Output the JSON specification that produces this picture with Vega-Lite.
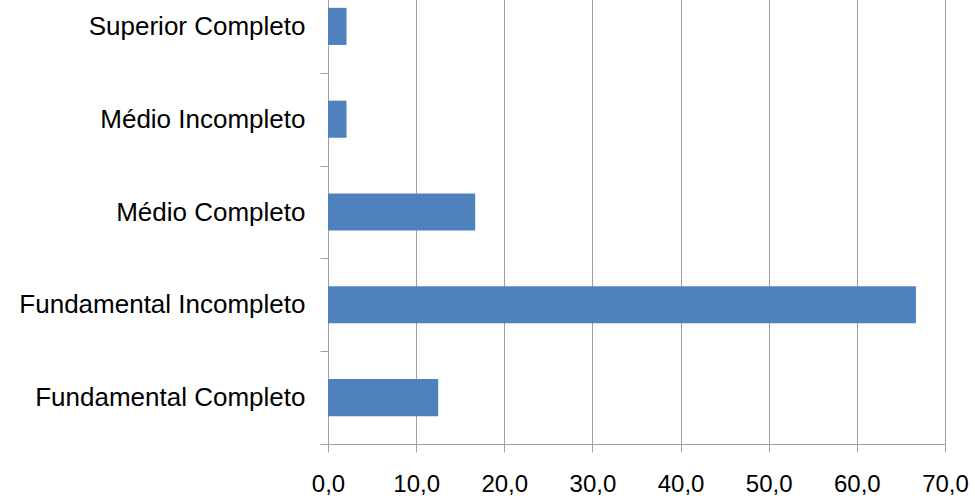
{
  "$schema": "https://vega.github.io/schema/vega-lite/v6.json",
  "width": 617,
  "height": 464,
  "autosize": {"type": "none"},
  "padding": {"left": 328, "top": -20, "right": 30, "bottom": 52},
  "background": "white",
  "data": {
    "values": [
      {"escolaridade": "Superior  Completo", "pct": 2.1},
      {"escolaridade": "Médio Incompleto", "pct": 2.1},
      {"escolaridade": "Médio Completo", "pct": 16.7},
      {"escolaridade": "Fundamental Incompleto", "pct": 66.7},
      {"escolaridade": "Fundamental Completo", "pct": 12.5}
    ]
  },
  "mark": {"type": "bar", "color": "#4f81bd", "height": {"band": 0.4}},
  "encoding": {
    "y": {
      "field": "escolaridade",
      "type": "nominal",
      "sort": null,
      "scale": {"paddingInner": 0, "paddingOuter": 0},
      "axis": {
        "title": null,
        "tickBand": "extent",
        "tickSize": 8,
        "tickColor": "#a0a0a0",
        "domainColor": "#a0a0a0",
        "grid": false,
        "labelFont": "Liberation Sans",
        "labelFontSize": 26,
        "labelColor": "#000000",
        "labelPadding": 15,
        "labelLimit": 400
      }
    },
    "x": {
      "field": "pct",
      "type": "quantitative",
      "scale": {"domain": [0, 70], "nice": false},
      "axis": {
        "title": null,
        "values": [0, 10, 20, 30, 40, 50, 60, 70],
        "labelExpr": "replace(format(datum.value, '.1f'), '.', ',')",
        "grid": true,
        "gridColor": "#a0a0a0",
        "gridOpacity": 1,
        "tickSize": 8,
        "tickColor": "#a0a0a0",
        "domainColor": "#a0a0a0",
        "labelFont": "Liberation Sans",
        "labelFontSize": 24,
        "labelColor": "#000000",
        "labelPadding": 20,
        "labelFlush": false,
        "labelOverlap": false
      }
    }
  },
  "config": {"view": {"stroke": null}}
}
